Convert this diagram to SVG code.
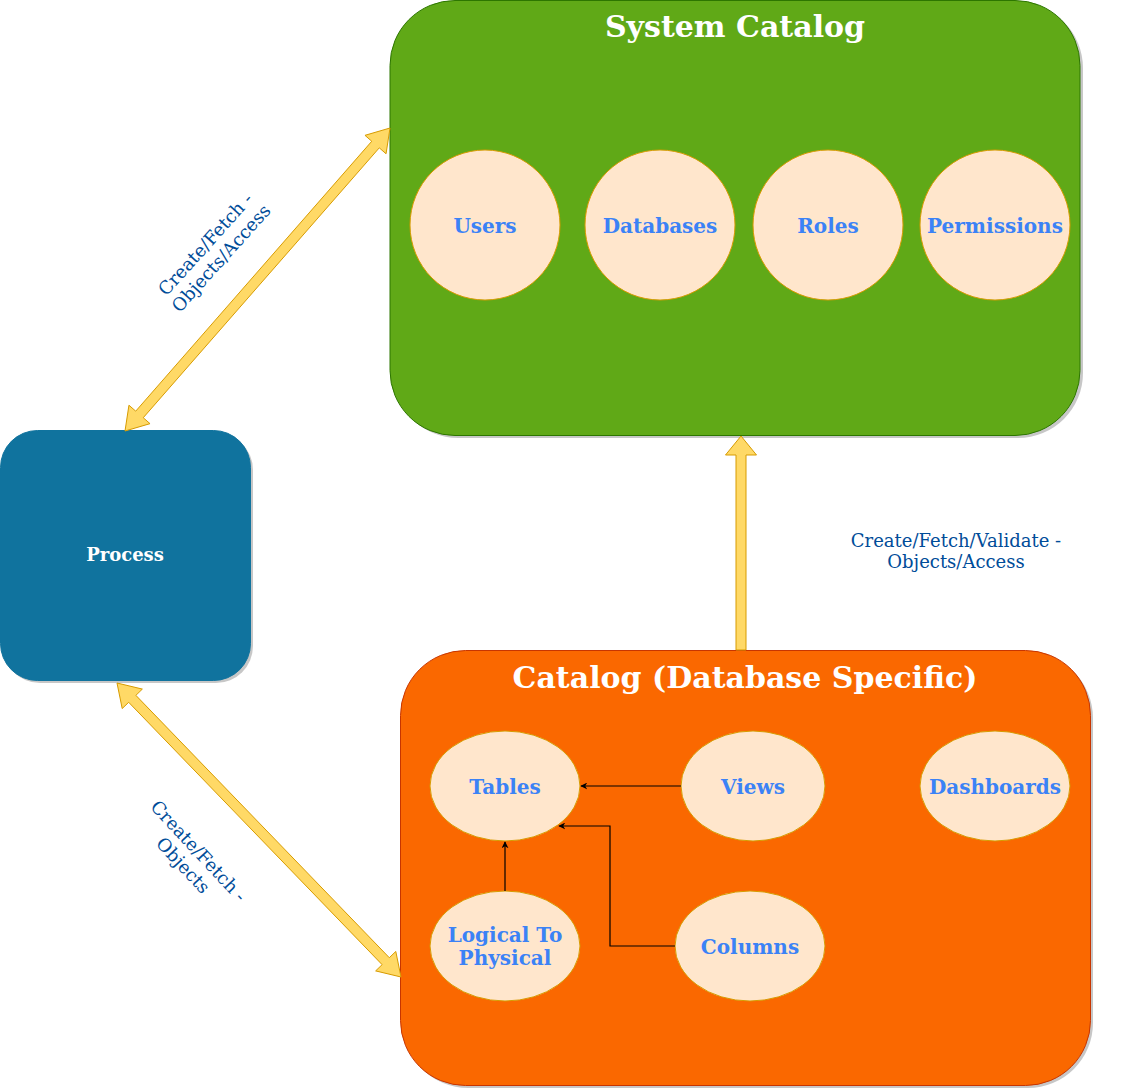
<svg xmlns="http://www.w3.org/2000/svg" width="1142" height="1089" viewBox="0 0 1142 1089">
<defs>
<style>
.shadow{fill:#000;opacity:0.22}
.ell{fill:#ffe6cc;stroke:#d79b00;stroke-width:1}
.elab{font-family:"DejaVu Serif",serif;font-weight:bold;font-size:20px;fill:#3b82f6;text-anchor:middle}
.title{font-family:"DejaVu Serif",serif;font-weight:bold;fill:#ffffff;text-anchor:middle}
.flex{fill:#ffd966;stroke:#d79b00;stroke-width:1;stroke-linejoin:miter}
.elbl{font-family:"DejaVu Serif",serif;font-size:18px;fill:#004c99;text-anchor:middle}
.line{fill:none;stroke:#000;stroke-width:1.2}
</style>
<marker id="ah" viewBox="0 0 10 10" refX="9" refY="5" markerWidth="7" markerHeight="7" orient="auto" markerUnits="userSpaceOnUse">
<path d="M0,0 L10,5 L0,10 L3,5 Z" fill="#000"/>
</marker>
</defs>
<rect width="1142" height="1089" fill="#ffffff"/>

<g id="system-catalog">
<rect class="shadow" x="393" y="3" width="690" height="435" rx="65"/>
<rect x="390" y="0.5" width="690" height="435" rx="65" fill="#60a917" stroke="#2d7600"/>
<text class="title" x="735" y="37" font-size="30">System Catalog</text>
</g>
<g id="users"><circle class="ell" cx="485" cy="225" r="75"/><text class="elab" x="485" y="233">Users</text></g>
<g id="databases"><circle class="ell" cx="660" cy="225" r="75"/><text class="elab" x="660" y="233">Databases</text></g>
<g id="roles"><circle class="ell" cx="828" cy="225" r="75"/><text class="elab" x="828" y="233">Roles</text></g>
<g id="permissions"><circle class="ell" cx="995" cy="225" r="75"/><text class="elab" x="995" y="233">Permissions</text></g>

<g id="process">
<rect class="shadow" x="3" y="433" width="250" height="250" rx="37"/>
<rect x="0.5" y="430.5" width="250" height="250" rx="37" fill="#10739e" stroke="#10739e"/>
<text class="title" x="125" y="561" font-size="18">Process</text>
</g>

<g id="catalog-db">
<rect class="shadow" x="403" y="653" width="690" height="435" rx="65"/>
<rect x="400.5" y="650.5" width="690" height="435" rx="65" fill="#fa6800" stroke="#c73500"/>
<text class="title" x="745" y="688" font-size="30">Catalog (Database Specific)</text>
</g>
<g id="tables"><ellipse class="ell" cx="505" cy="786" rx="75" ry="55"/><text class="elab" x="505" y="794">Tables</text></g>
<g id="views"><ellipse class="ell" cx="753" cy="786" rx="72" ry="55"/><text class="elab" x="753" y="794">Views</text></g>
<g id="dashboards"><ellipse class="ell" cx="995" cy="786" rx="75" ry="55"/><text class="elab" x="995" y="794">Dashboards</text></g>
<g id="logical"><ellipse class="ell" cx="505" cy="946" rx="75" ry="55"/><text class="elab" x="505" y="942">Logical To</text><text class="elab" x="505" y="965">Physical</text></g>
<g id="columns"><ellipse class="ell" cx="750" cy="946" rx="75" ry="55"/><text class="elab" x="750" y="954">Columns</text></g>

<g id="connectors">
<polygon class="flex" points="125,431 150.02,423.66 143.24,417.73 379.28,147.85 386.06,153.78 390,128 364.98,135.34 371.76,141.27 135.72,411.15 128.94,405.22"/>
<polygon class="flex" points="117,683 122.21,708.55 128.68,702.29 382.12,964.65 375.65,970.91 401,977 395.79,951.45 389.32,957.71 135.88,695.35 142.35,689.09"/>
<polygon class="flex" points="736,650 746,650 746,455 756.5,455 741,436 725.5,455 736,455"/>
<path class="line" d="M681,786 L581,786" marker-end="url(#ah)"/>
<path class="line" d="M675,946 L610,946 L610,826 L559,826" marker-end="url(#ah)"/>
<path class="line" d="M505,891 L505,842" marker-end="url(#ah)"/>
<text class="elbl" transform="translate(213,251) rotate(-48)"><tspan x="0" y="-4">Create/Fetch -</tspan><tspan x="0" y="17">Objects/Access</tspan></text>
<text class="elbl" transform="translate(191,858) rotate(47)"><tspan x="0" y="-4">Create/Fetch -</tspan><tspan x="0" y="17">Objects</tspan></text>
<text class="elbl"><tspan x="956" y="547">Create/Fetch/Validate -</tspan><tspan x="956" y="568">Objects/Access</tspan></text>
</g>
</svg>
